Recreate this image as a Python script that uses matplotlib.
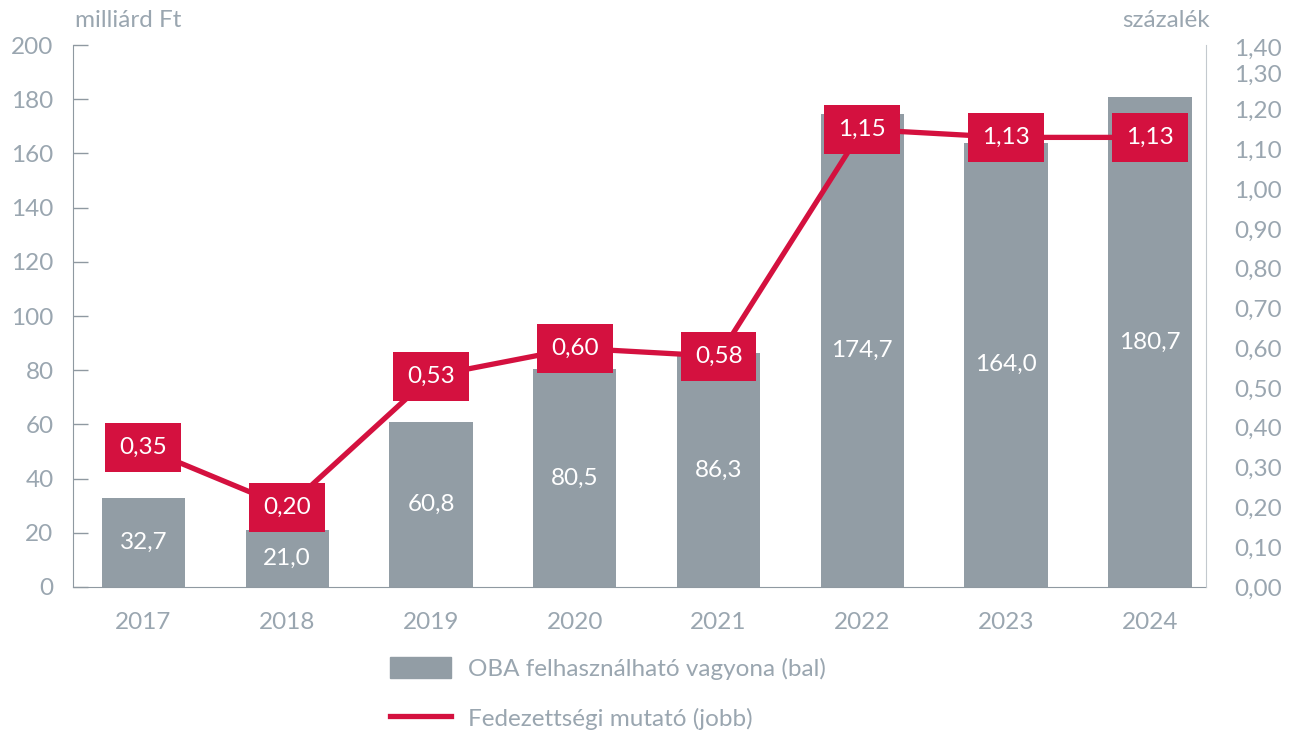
import matplotlib.pyplot as plt
import numpy as np
from matplotlib.patches import Patch
from matplotlib.lines import Line2D

# adatok
years = ["2017", "2018", "2019", "2020", "2021", "2022", "2023", "2024"]
assets = [32.7, 21.0, 60.8, 80.5, 86.3, 174.7, 164.0, 180.7]
coverage = [0.35, 0.20, 0.53, 0.60, 0.58, 1.15, 1.13, 1.13]
left_ticks = [0, 20, 40, 60, 80, 100, 120, 140, 160, 180, 200]
right_ticks = [0.0, 0.1, 0.2, 0.3, 0.4, 0.5, 0.6, 0.7, 0.8, 0.9, 1.0, 1.1, 1.2, 1.29, 1.357]
right_labels = ["0,00", "0,10", "0,20", "0,30", "0,40", "0,50", "0,60", "0,70",
                "0,80", "0,90", "1,00", "1,10", "1,20", "1,30", "1,40"]

bar_col = "#929da5"
red = "#d4113f"
txt = "#9aa6b0"
spine = "#8f99a1"
fs = 17.5

plt.rcParams['font.family'] = ['Lato', 'DejaVu Sans']

fig = plt.figure(figsize=(12.99, 7.39), dpi=100)
ax = fig.add_axes([0.0562, 0.2057, 0.8722, 0.7333])
ax2 = ax.twinx()
ax.set_zorder(1)
ax2.set_zorder(2)
ax.patch.set_visible(False)

x = np.arange(len(years))
ax.bar(x, assets, width=0.58, color=bar_col, zorder=2)
for xi, v in zip(x, assets):
    ax.text(xi, v / 2, f"{v:.1f}".replace(".", ","), ha="center", va="center",
            color="white", fontsize=fs, zorder=3)

ax.set_xlim(-0.49, 7.39)
ax.set_ylim(0, 200)
ax.set_yticks(left_ticks)
ax.set_xticks(x)
ax.set_xticklabels(years)
ax.tick_params(axis="y", direction="in", length=11, width=1, color=spine,
               labelsize=fs, labelcolor=txt, pad=14)
ax.tick_params(axis="x", length=0, labelsize=fs, labelcolor=txt, pad=18)
for s in ["top", "right"]:
    ax.spines[s].set_visible(False)
ax.spines["left"].set_color(spine)
ax.spines["bottom"].set_color(spine)

ax2.plot(x, coverage, color=red, lw=3.8, zorder=3, solid_capstyle="butt")
for xi, v in zip(x, coverage):
    ax2.text(xi, v, f"{v:.2f}".replace(".", ","), ha="center", va="center",
             color="white", fontsize=fs, zorder=4,
             bbox=dict(boxstyle="square,pad=0.58", fc=red, ec="none"))
ax2.set_ylim(0, 1.362)
ax2.set_yticks(right_ticks)
ax2.set_yticklabels(right_labels)
ax2.tick_params(axis="y", length=0, labelsize=fs, labelcolor=txt, pad=20)
for s in ["top", "left", "bottom"]:
    ax2.spines[s].set_visible(False)
ax2.spines["right"].set_color("#c3c9ce")

fig.text(0.058, 0.972, "milliárd Ft", color=txt, fontsize=fs, ha="left", va="center")
fig.text(0.931, 0.972, "százalék", color=txt, fontsize=fs, ha="right", va="center")

handles = [Patch(color=bar_col), Line2D([], [], color=red, lw=3.8)]
fig.legend(handles, ["OBA felhasználható vagyona (bal)", "Fedezettségi mutató (jobb)"],
           loc="upper left", bbox_to_anchor=(0.291, 0.128), frameon=False,
           fontsize=fs, labelcolor=txt, handlelength=2.5, handleheight=1.0,
           labelspacing=1.1, handletextpad=0.7, borderpad=0)

fig.savefig("out.png", dpi=100)
